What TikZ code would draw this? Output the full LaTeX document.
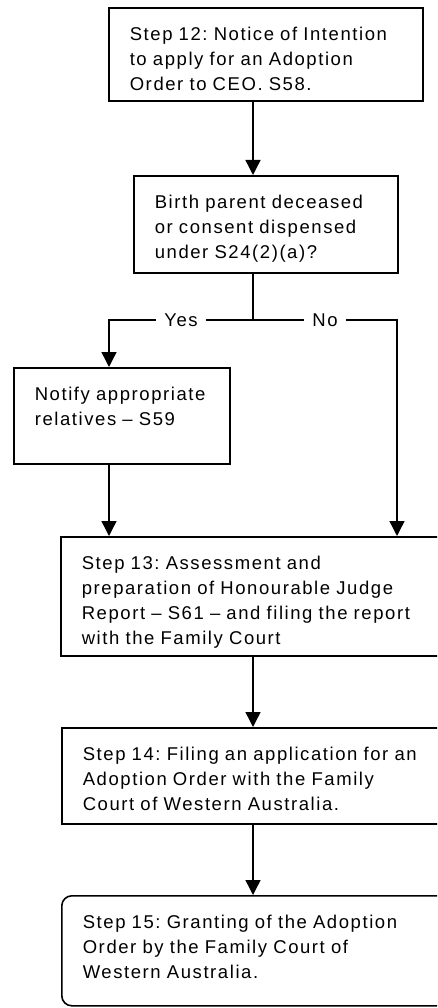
\documentclass[tikz,border=0pt]{standalone}
\usepackage{fontspec}
\setmainfont{Liberation Sans}[LetterSpace=8.5]
\usetikzlibrary{arrows.meta}
\usetikzlibrary{positioning}
\frenchspacing

\begin{document}
\begin{tikzpicture}[x=1pt,y=-1pt,
    every node/.style={font=\fontsize{18.5}{25}\selectfont},
    stepbox/.style={draw,line width=1.6pt,anchor=north west,align=left,
        inner xsep=21pt,inner ysep=0pt,text height=33pt},
    flow/.style={line width=1.4pt,-{Triangle[width=15pt,length=15pt]}},
    link/.style={line width=1.4pt},
    choice/.style={fill=white,inner xsep=8pt,inner ysep=2pt}]
    \useasboundingbox (0,0) rectangle (437,1008);
    \clip (0,0) rectangle (437,1008);
    % boxes
    \node[stepbox,text width=272pt,text depth=60pt] (notice) at (108,7)
        {Step 12: Notice of Intention\\to apply for an Adoption\\Order to CEO. S58.};
    \node[stepbox,text width=222pt,text depth=64pt] (birth) at (133,175)
        {Birth parent deceased\\or consent dispensed\\under S24(2)(a)?};
    \node[stepbox,text width=174pt,text depth=63pt] (notify) at (13,367)
        {Notify appropriate\\relatives -- S59};
    \node[stepbox,text width=358pt,text depth=86pt] (assess) at (60,536)
        {Step 13: Assessment and\\preparation of Honourable Judge\\Report -- S61 -- and filing the report\\with the Family Court};
    \node[stepbox,text width=358pt,text depth=63pt] (filing) at (61,727)
        {Step 14: Filing an application for an\\Adoption Order with the Family\\Court of Western Australia.};
    \node[stepbox,rounded corners=10pt,text width=358pt,text depth=77pt] (grant) at (61,895)
        {Step 15: Granting of the Adoption\\Order by the Family Court of\\Western Australia.};
    % connectors
    \coordinate (spine) at (253,0);
    \coordinate (fork) at (253,320);
    \coordinate (yesturn) at (109,320);
    \coordinate (noturn) at (397,320);
    \draw[flow] (notice.south -| spine) -- (birth.north -| spine);
    \draw[link] (birth.south -| spine) -- (fork);
    \draw[flow] (fork) -- node[choice] {Yes} (yesturn) -- (notify.north -| yesturn);
    \draw[flow] (fork) -- node[choice] {No} (noturn) -- (assess.north -| noturn);
    \draw[flow] (notify.south -| yesturn) -- (assess.north -| yesturn);
    \draw[flow] (assess.south -| spine) -- (filing.north -| spine);
    \draw[flow] (filing.south -| spine) -- (grant.north -| spine);
\end{tikzpicture}
\end{document}
